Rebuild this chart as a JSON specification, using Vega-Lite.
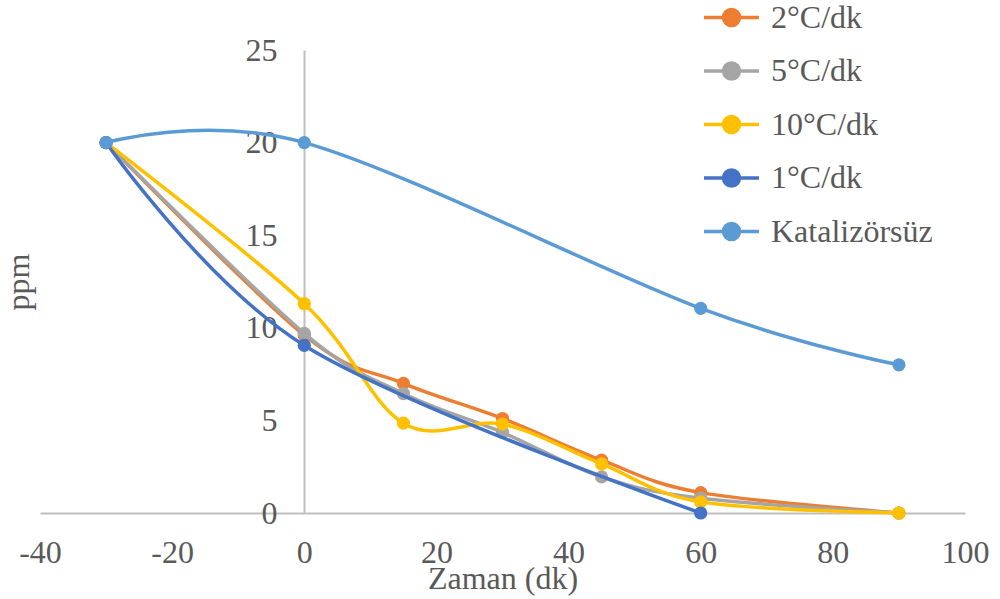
{
  "$schema": "https://vega.github.io/schema/vega-lite/v6.json",
  "width": 925,
  "height": 463,
  "autosize": "none",
  "padding": {"left": 40, "top": 50, "right": 35, "bottom": 86},
  "background": "white",
  "config": {
    "view": {"stroke": null},
    "font": "Liberation Serif, Times New Roman, serif"
  },
  "data": {
    "values": [
      {"seri": "2°C/dk", "zaman": -30, "ppm": 20},
      {"seri": "2°C/dk", "zaman": 0, "ppm": 9.6},
      {"seri": "2°C/dk", "zaman": 15, "ppm": 7.0},
      {"seri": "2°C/dk", "zaman": 30, "ppm": 5.1},
      {"seri": "2°C/dk", "zaman": 45, "ppm": 2.85},
      {"seri": "2°C/dk", "zaman": 60, "ppm": 1.1},
      {"seri": "2°C/dk", "zaman": 90, "ppm": 0},
      {"seri": "5°C/dk", "zaman": -30, "ppm": 20},
      {"seri": "5°C/dk", "zaman": 0, "ppm": 9.7},
      {"seri": "5°C/dk", "zaman": 15, "ppm": 6.45},
      {"seri": "5°C/dk", "zaman": 30, "ppm": 4.35},
      {"seri": "5°C/dk", "zaman": 45, "ppm": 1.95},
      {"seri": "5°C/dk", "zaman": 60, "ppm": 0.8},
      {"seri": "5°C/dk", "zaman": 90, "ppm": 0},
      {"seri": "10°C/dk", "zaman": -30, "ppm": 20},
      {"seri": "10°C/dk", "zaman": 0, "ppm": 11.3},
      {"seri": "10°C/dk", "zaman": 15, "ppm": 4.85},
      {"seri": "10°C/dk", "zaman": 30, "ppm": 4.8},
      {"seri": "10°C/dk", "zaman": 45, "ppm": 2.65},
      {"seri": "10°C/dk", "zaman": 60, "ppm": 0.6},
      {"seri": "10°C/dk", "zaman": 90, "ppm": 0},
      {"seri": "1°C/dk", "zaman": -30, "ppm": 20},
      {"seri": "1°C/dk", "zaman": 0, "ppm": 9.05},
      {"seri": "1°C/dk", "zaman": 60, "ppm": 0},
      {"seri": "Katalizörsüz", "zaman": -30, "ppm": 20},
      {"seri": "Katalizörsüz", "zaman": 0, "ppm": 20},
      {"seri": "Katalizörsüz", "zaman": 60, "ppm": 11.05},
      {"seri": "Katalizörsüz", "zaman": 90, "ppm": 8}
    ]
  },
  "encoding": {
    "x": {
      "field": "zaman",
      "type": "quantitative",
      "scale": {"domain": [-40, 100], "nice": false, "zero": false},
      "axis": {
        "title": "Zaman (dk)",
        "values": [-40, -20, 0, 20, 40, 60, 80, 100],
        "labelExpr": "'' + datum.value",
        "grid": false,
        "ticks": false,
        "tickSize": 0,
        "domainColor": "#BFBFBF",
        "domainWidth": 2,
        "labelFont": "Liberation Serif, Times New Roman, serif",
        "labelFontSize": 32,
        "labelColor": "#595959",
        "labelBaseline": "alphabetic",
        "labelPadding": 49,
        "labelFlush": false,
        "labelOverlap": false,
        "titleFont": "Liberation Serif, Times New Roman, serif",
        "titleFontSize": 32,
        "titleFontWeight": "normal",
        "titleColor": "#595959",
        "titleBaseline": "alphabetic",
        "titleY": 75
      }
    },
    "y": {
      "field": "ppm",
      "type": "quantitative",
      "scale": {"domain": [0, 25], "nice": false},
      "axis": {
        "title": "ppm",
        "values": [0, 5, 10, 15, 20, 25],
        "labelExpr": "'' + datum.value",
        "offset": -264,
        "grid": false,
        "ticks": false,
        "tickSize": 0,
        "domainColor": "#BFBFBF",
        "domainWidth": 2,
        "labelFont": "Liberation Serif, Times New Roman, serif",
        "labelFontSize": 32,
        "labelColor": "#595959",
        "labelPadding": 27,
        "labelBaseline": "middle",
        "labelFlush": false,
        "labelOverlap": false,
        "titleFont": "Liberation Serif, Times New Roman, serif",
        "titleFontSize": 32,
        "titleFontWeight": "normal",
        "titleColor": "#595959",
        "titleAngle": 270,
        "titleAlign": "center",
        "titleBaseline": "alphabetic",
        "titleX": -276,
        "titleY": 231.5
      }
    },
    "color": {
      "field": "seri",
      "type": "nominal",
      "scale": {
        "domain": ["2°C/dk", "5°C/dk", "10°C/dk", "1°C/dk", "Katalizörsüz"],
        "range": ["#ED7D31", "#A5A5A5", "#FFC000", "#4472C4", "#5B9BD5"]
      },
      "legend": {
        "title": null,
        "orient": "none",
        "legendX": 662,
        "legendY": -62,
        "padding": 0,
        "symbolType": "M-1,0L1,0M-0.29,0A0.29,0.29,0,1,1,0.29,0A0.29,0.29,0,1,1,-0.29,0Z",
        "symbolSize": 3025,
        "symbolStrokeWidth": 3.5,
        "labelFont": "Liberation Serif, Times New Roman, serif",
        "labelFontSize": 32,
        "labelColor": "#595959",
        "labelOffset": 10,
        "rowPadding": 7.5,
        "labelLimit": 400,
        "encode": {
          "symbols": {
            "update": {
              "fill": {"scale": "color", "field": "value"},
              "stroke": {"scale": "color", "field": "value"},
              "opacity": {"value": 1}
            }
          }
        }
      }
    }
  },
  "layer": [
    {
      "transform": [{"filter": "datum.seri === '2°C/dk'"}],
      "mark": {"type": "line", "interpolate": "cardinal", "tension": 0, "strokeWidth": 3.5,
               "point": {"filled": true, "size": 175, "opacity": 1}}
    },
    {
      "transform": [{"filter": "datum.seri === '5°C/dk'"}],
      "mark": {"type": "line", "interpolate": "cardinal", "tension": 0, "strokeWidth": 3.5,
               "point": {"filled": true, "size": 175, "opacity": 1}}
    },
    {
      "transform": [{"filter": "datum.seri === '10°C/dk'"}],
      "mark": {"type": "line", "interpolate": "cardinal", "tension": 0, "strokeWidth": 3.5,
               "point": {"filled": true, "size": 175, "opacity": 1}}
    },
    {
      "transform": [{"filter": "datum.seri === '1°C/dk'"}],
      "mark": {"type": "line", "interpolate": "cardinal", "tension": 0, "strokeWidth": 3.5,
               "point": {"filled": true, "size": 175, "opacity": 1}}
    },
    {
      "transform": [{"filter": "datum.seri === 'Katalizörsüz'"}],
      "mark": {"type": "line", "interpolate": "cardinal", "tension": 0, "strokeWidth": 3.5,
               "point": {"filled": true, "size": 175, "opacity": 1}}
    }
  ]
}
